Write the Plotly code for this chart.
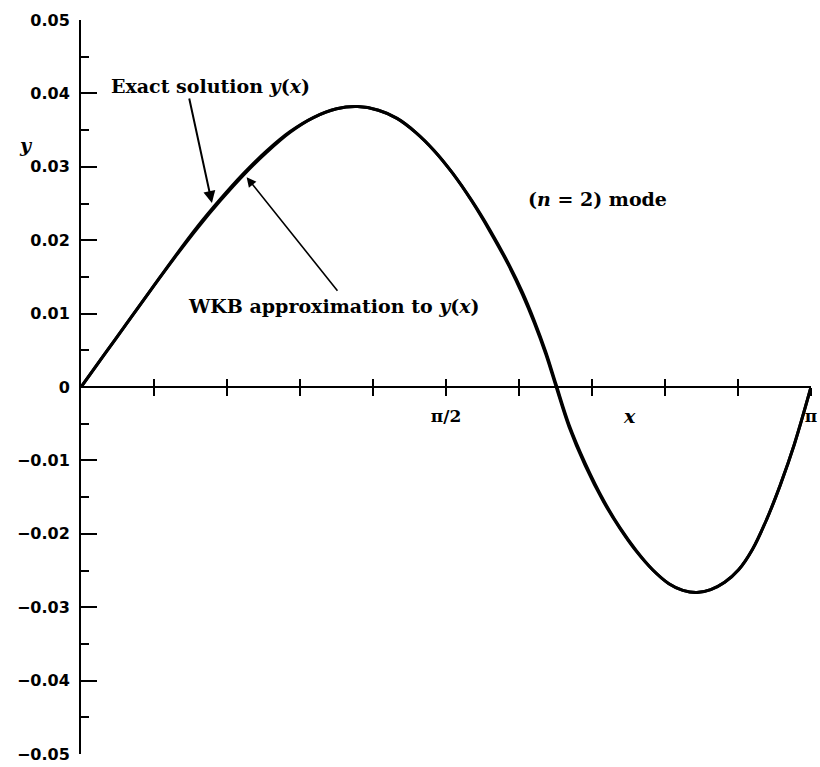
import math
import plotly.graph_objects as go

PI = math.pi

# ---- data (x in radians, y dimensionless) ----
x_exact = [0.00, 0.10, 0.20, 0.30, 0.40, 0.50, 0.60, 0.70, 0.80, 0.90, 1.00, 1.10,
           1.19, 1.28, 1.36, 1.44, 1.52, 1.60, 1.68, 1.76, 1.84, 1.90, 1.95, 2.00,
           2.045, 2.10, 2.17, 2.25, 2.32, 2.39, 2.46, 2.53, 2.59, 2.65, 2.71, 2.77,
           2.83, 2.89, 2.95, 3.01, 3.07, PI]
y_exact = [0.0, 0.0044, 0.0088, 0.0132, 0.0175, 0.0216, 0.0254, 0.0289, 0.0320,
           0.0347, 0.0367, 0.0379, 0.0382, 0.0377, 0.0366, 0.0347, 0.0322, 0.0291,
           0.0254, 0.0212, 0.0166, 0.0126, 0.0088, 0.0045, 0.0, -0.0054, -0.0107,
           -0.0157, -0.0193, -0.0224, -0.0249, -0.0268, -0.0277, -0.0280, -0.0276,
           -0.0266, -0.0249, -0.0221, -0.0181, -0.0133, -0.0078, 0.0]

x_wkb = x_exact
y_wkb = [0.0, 0.0044, 0.0088, 0.0132, 0.0176, 0.0218, 0.0256, 0.0291, 0.0322,
         0.0348, 0.0367, 0.0379, 0.0382, 0.0377, 0.0366, 0.0347, 0.0322, 0.0291,
         0.0255, 0.0214, 0.0168, 0.0129, 0.0091, 0.0048, 0.0003, -0.0051, -0.0104,
         -0.0155, -0.0192, -0.0223, -0.0249, -0.0268, -0.0277, -0.0280, -0.0276,
         -0.0266, -0.0249, -0.0221, -0.0181, -0.0133, -0.0078, 0.0]

x_tick_vals = [k * PI / 10 for k in range(1, 11)]
x_tick_text = ["", "", "", "", "<b>π/2</b>", "", "", "", "", "<b>π</b>"]

y_tick_vals = [0.05, 0.04, 0.03, 0.02, 0.01, 0.0, -0.01, -0.02, -0.03, -0.04, -0.05]
y_tick_text = ["0.05", "0.04", "0.03", "0.02", "0.01", "0",
               "−0.01", "−0.02", "−0.03", "−0.04", "−0.05"]
y_minor_vals = [0.045, 0.035, 0.025, 0.015, 0.005, -0.005, -0.015, -0.025, -0.035, -0.045]

# ---- figure geometry helpers (pixel -> data / paper) ----
L, R, T, B = 81, 3, 20, 9
W, H = 820, 767
pw, ph = W - L - R, H - T - B


def px2x(px):
    return (px - L) / pw * PI


def py2y(py):
    return 0.05 - (py - T) / ph * 0.1


def px2paper(px):
    return (px - L) / pw


def py2paper(py):
    return 1 - (py - T) / ph


fig = go.Figure()
fig.add_trace(go.Scatter(x=x_wkb, y=y_wkb, mode="lines",
                         line=dict(color="black", width=3, shape="spline", smoothing=1.0),
                         showlegend=False, name="WKB"))
fig.add_trace(go.Scatter(x=x_exact, y=y_exact, mode="lines",
                         line=dict(color="black", width=3, shape="spline", smoothing=1.0),
                         showlegend=False, name="Exact"))
# invisible trace so the overlaid axis (upper half of the x ticks) is drawn
fig.add_trace(go.Scatter(x=[0, PI], y=[0, 0], xaxis="x2", mode="lines",
                         line=dict(width=0, color="rgba(0,0,0,0)"),
                         hoverinfo="skip", showlegend=False))

serif = "DejaVu Serif"
sans = "DejaVu Sans"

fig.update_layout(
    width=W, height=H,
    margin=dict(l=L, r=R, t=T, b=B),
    paper_bgcolor="white", plot_bgcolor="white",
    xaxis=dict(range=[0, PI], anchor="free", position=0.5,
               showline=True, linewidth=2, linecolor="black",
               ticks="outside", ticklen=8, tickwidth=2, tickcolor="black",
               tickvals=x_tick_vals, ticktext=x_tick_text,
               tickfont=dict(family=serif, size=17, color="black"),
               ticklabelstandoff=6,
               ticklabeloverflow="allow",
               showgrid=False, zeroline=False),
    xaxis2=dict(range=[0, PI], overlaying="x", anchor="free", position=0.5,
                ticks="inside", ticklen=8, tickwidth=2, tickcolor="black",
                tickvals=x_tick_vals, showticklabels=False,
                showline=False, showgrid=False, zeroline=False),
    yaxis=dict(range=[-0.05, 0.05], showline=True, linewidth=2, linecolor="black",
               ticks="inside", ticklen=16, tickwidth=2, tickcolor="black",
               tickvals=y_tick_vals, ticktext=["<b>%s</b>" % t for t in y_tick_text],
               tickfont=dict(family=sans, size=16, color="black"),
               ticklabelstandoff=6,
               ticklabeloverflow="allow",
               minor=dict(tickvals=y_minor_vals, ticks="inside", ticklen=8,
                          tickwidth=2, tickcolor="black"),
               showgrid=False, zeroline=False),
)

afont = dict(family=serif, size=19, color="black")
annotations = [
    dict(x=px2x(213), y=py2y(204), ax=-23, ay=-106, showarrow=True,
         arrowhead=2, arrowsize=1.2, arrowwidth=2, arrowcolor="black", text=""),
    dict(x=px2x(248), y=py2y(178), ax=92, ay=115, showarrow=True,
         arrowhead=2, arrowsize=1.2, arrowwidth=1.6, arrowcolor="black", text=""),
    dict(x=px2x(212), y=py2y(86), text="<b>Exact solution <i>y</i>(<i>x</i>)</b>",
         showarrow=False, font=afont),
    dict(x=px2x(336), y=py2y(308), text="<b>WKB approximation to <i>y</i>(<i>x</i>)</b>",
         showarrow=False, font=afont),
    dict(x=px2x(602), y=py2y(200), text="<b>(<i>n</i> = 2) mode</b>",
         showarrow=False, font=afont),
    dict(x=px2x(634), y=py2y(418), text="<b><i>x</i></b>",
         showarrow=False, font=dict(family=serif, size=19, color="black")),
    dict(xref="paper", yref="paper", x=px2paper(16), y=py2paper(133),
         text="<b><i>y</i></b>", showarrow=False,
         font=dict(family=serif, size=19, color="black")),
]
fig.update_layout(annotations=annotations)

fig.write_html("out.html")
